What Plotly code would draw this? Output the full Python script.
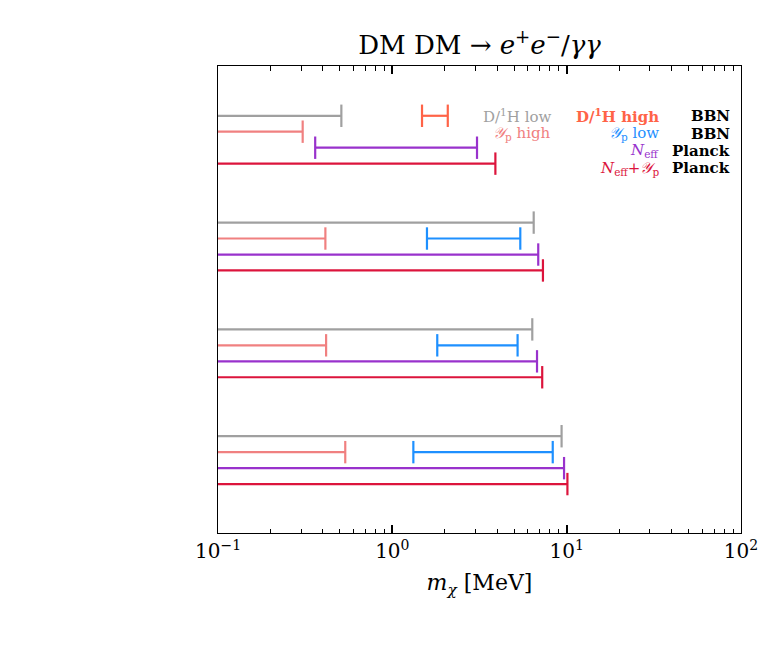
import plotly.graph_objects as go

# ---- data (MeV) ----
groups = ["g1", "g2", "g3", "g4"]  # top to bottom
series_names = ["D/¹H low", "D/¹H high", "𝒴p high", "𝒴p low", "Neff", "Neff+𝒴p"]
# lower bound (None -> unbounded, extends to axis), upper bound (None -> no bar)
dh_low_lo = [None, None, None, None]
dh_low_hi = [0.51, 6.47, 6.35, 9.35]
dh_high_lo = [1.48, None, None, None]
dh_high_hi = [2.08, None, None, None]
yp_high_lo = [None, None, None, None]
yp_high_hi = [0.306, 0.413, 0.417, 0.537]
yp_low_lo = [None, 1.58, 1.81, 1.32]
yp_low_hi = [None, 5.42, 5.23, 8.32]
neff_lo = [0.361, None, None, None]
neff_hi = [3.06, 6.87, 6.76, 9.66]
neffyp_lo = [None, None, None, None]
neffyp_hi = [3.90, 7.31, 7.24, 10.1]

x_min, x_max = 0.1, 100.0
tick_vals = [0.1, 1, 10, 100]
tick_text = ["10<sup>−1</sup>", "10<sup>0</sup>", "10<sup>1</sup>", "10<sup>2</sup>"]
minor_vals = [m * d for d in (0.1, 1, 10) for m in range(2, 10)]

series = [
    (dh_low_lo, dh_low_hi, "#a0a0a0", 0),
    (dh_high_lo, dh_high_hi, "#ff6347", 0),
    (yp_high_lo, yp_high_hi, "#f08080", 1),
    (yp_low_lo, yp_low_hi, "#1e90ff", 1),
    (neff_lo, neff_hi, "#9932cc", 2),
    (neffyp_lo, neffyp_hi, "#dc143c", 3),
]

row_offsets = [0.224, 0.075, -0.075, -0.224]
group_centers = [4, 3, 2, 1]

fig = go.Figure()
for lo_arr, hi_arr, color, row in series:
    for gi in range(len(groups)):
        hi = hi_arr[gi]
        if hi is None:
            continue
        lo = lo_arr[gi]
        y = group_centers[gi] + row_offsets[row]
        x0 = lo if lo is not None else x_min
        fig.add_trace(go.Scatter(x=[x0, hi], y=[y, y], mode="lines",
                                 line=dict(color=color, width=2.2),
                                 showlegend=False, hoverinfo="skip"))
        cap_x = [hi] + ([lo] if lo is not None else [])
        fig.add_trace(go.Scatter(x=cap_x, y=[y] * len(cap_x), mode="markers",
                                 marker=dict(symbol="line-ns", size=16,
                                             line=dict(color=color, width=2.2)),
                                 showlegend=False, hoverinfo="skip"))

# invisible trace to carry the minor-tick axis
fig.add_trace(go.Scatter(x=[x_min, x_max], y=[None, None], xaxis="x2", yaxis="y",
                         mode="lines", showlegend=False, hoverinfo="skip"))

font_fam = "DejaVu Serif"
leg_size = 15
top_rows = [group_centers[0] + o for o in row_offsets]
label_dy = [-0.005, -0.02, -0.03, -0.045]
labels = [
    ("D/<sup>1</sup>H low", "#a0a0a0", 0.6405, 0),
    ("<b>D/<sup>1</sup>H high</b>", "#ff6347", 0.847, 0),
    ("<b>BBN</b>", "black", 0.983, 0),
    ("<i>𝒴</i><sub>p</sub> high", "#f08080", 0.6405, 1),
    ("<i>𝒴</i><sub>p</sub> low", "#1e90ff", 0.847, 1),
    ("<b>BBN</b>", "black", 0.983, 1),
    ("<i>N</i><sub>eff</sub>", "#9932cc", 0.847, 2),
    ("<b>Planck</b>", "black", 0.983, 2),
    ("<i>N</i><sub>eff</sub>+<i>𝒴</i><sub>p</sub>", "#dc143c", 0.847, 3),
    ("<b>Planck</b>", "black", 0.983, 3),
]
for txt, col, xp, r in labels:
    fig.add_annotation(text=txt, x=xp, xref="paper", y=top_rows[r] + label_dy[r], yref="y",
                       xanchor="right", yanchor="middle", showarrow=False,
                       font=dict(family=font_fam, size=leg_size, color=col))

fig.update_layout(
    width=780, height=660,
    margin=dict(l=218, r=39, t=66, b=127),
    paper_bgcolor="white", plot_bgcolor="white",
    title=dict(text="DM DM → <i>e</i><sup>+</sup><i>e</i><sup>−</sup>/<i>γγ</i>",
               x=(218 + 741) / 2 / 780, xanchor="center", y=1 - 45 / 660, yanchor="middle",
               font=dict(family=font_fam, size=26, color="black")),
    xaxis=dict(type="log", range=[-1, 2], tickvals=tick_vals, ticktext=tick_text,
               ticks="inside", ticklen=8, tickwidth=1.5, tickcolor="black",
               showline=True, linecolor="black", linewidth=1, mirror="ticks",
               showgrid=False, zeroline=False,
               tickfont=dict(family=font_fam, size=20, color="black"),
               title=dict(text="<i>m<sub>χ</sub></i> [MeV]", standoff=12,
                          font=dict(family=font_fam, size=22, color="black"))),
    xaxis2=dict(type="log", range=[-1, 2], overlaying="x", anchor="y", side="bottom",
                tickvals=minor_vals, ticks="inside", ticklen=4.5, tickwidth=1.2,
                tickcolor="black", showticklabels=False, mirror="ticks",
                showline=False, showgrid=False, zeroline=False),
    yaxis=dict(range=[0.318, 4.69], showticklabels=False, ticks="",
               showline=True, linecolor="black", linewidth=1, mirror=True,
               showgrid=False, zeroline=False),
)

fig.write_html("out.html")
